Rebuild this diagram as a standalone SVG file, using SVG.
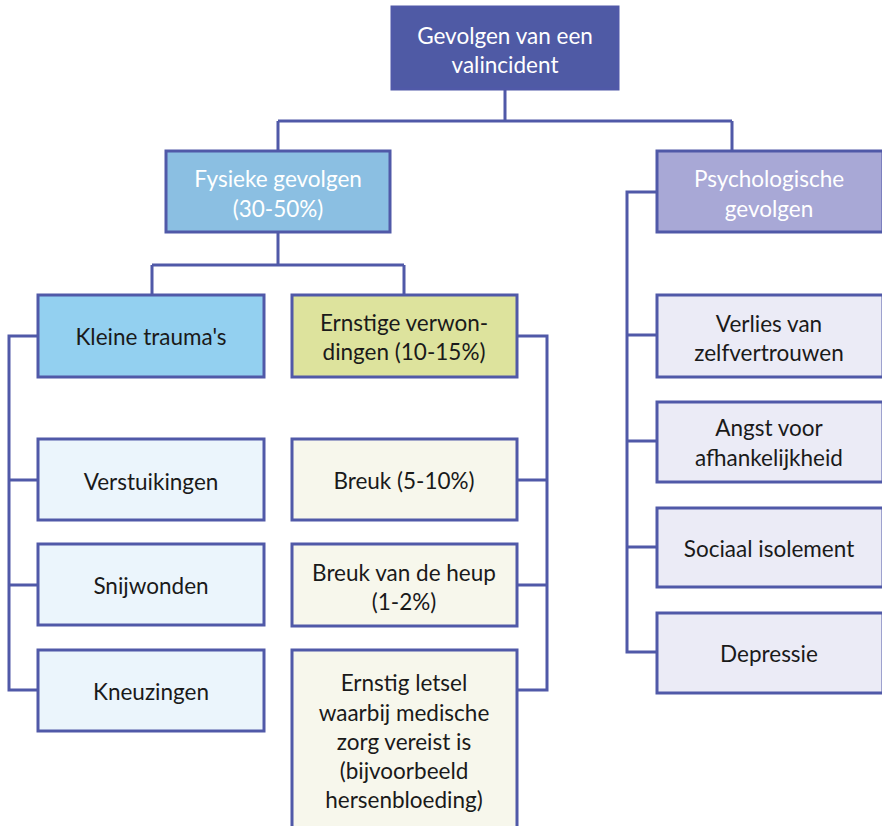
<svg xmlns="http://www.w3.org/2000/svg" width="882" height="826" viewBox="0 0 882 826">
<style>
rect{stroke:#5059a8;stroke-width:3}
.c{fill:none;stroke:#5059a8;stroke-width:3}
text{font-family:Lato,"Open Sans","Liberation Sans",sans-serif;font-size:22.5px;text-anchor:middle;dominant-baseline:central;fill:#1a1a1a}
.w{fill:#ffffff}
</style>
<rect width="882" height="826" fill="#ffffff" style="stroke:none"/>
<g id="connectors">
<path class="c" d="M505 89V121M278 121H732M278 121V151M732 121V151"/>
<path class="c" d="M278 232V265M152 265H404M152 265V295M404 265V295"/>
<path class="c" d="M38 336H9V690H38M9 480H38M9 585H38"/>
<path class="c" d="M517 336H547V690H517M547 480H517M547 585H517"/>
<path class="c" d="M657 192H627V652H657M627 335H657M627 441H657M627 547H657"/>
</g>
<g id="root"><rect x="392" y="7" width="226" height="82" fill="#4f5aa5"/><text class="w" x="505" y="35">Gevolgen van een</text><text class="w" x="505" y="64">valincident</text></g>
<g id="fysiek"><rect x="166" y="151" width="224" height="81" fill="#8bbfe2"/><text class="w" x="278" y="178">Fysieke gevolgen</text><text class="w" x="278" y="208">(30-50%)</text></g>
<g id="psych"><rect x="657" y="151" width="226" height="81" fill="#a8a8d6"/><text class="w" x="769" y="178">Psychologische</text><text class="w" x="769" y="208">gevolgen</text></g>
<g id="kleine"><rect x="38" y="295" width="226" height="82" fill="#93d0f0"/><text x="151" y="336">Kleine trauma's</text></g>
<g id="ernstige"><rect x="292" y="295" width="225" height="82" fill="#dde39d"/><text x="404" y="322">Ernstige verwon-</text><text x="404" y="351">dingen (10-15%)</text></g>
<g id="verstuikingen"><rect x="38" y="439" width="226" height="81" fill="#ebf5fc"/><text x="151" y="481">Verstuikingen</text></g>
<g id="snijwonden"><rect x="38" y="544" width="226" height="81" fill="#ebf5fc"/><text x="151" y="585">Snijwonden</text></g>
<g id="kneuzingen"><rect x="38" y="650" width="226" height="81" fill="#ebf5fc"/><text x="151" y="691">Kneuzingen</text></g>
<g id="breuk"><rect x="292" y="439" width="225" height="81" fill="#f7f7ec"/><text x="404" y="480">Breuk (5-10%)</text></g>
<g id="heup"><rect x="292" y="544" width="225" height="82" fill="#f7f7ec"/><text x="404" y="572">Breuk van de heup</text><text x="404" y="601">(1-2%)</text></g>
<g id="letsel"><rect x="292" y="650" width="225" height="190" fill="#f7f7ec"/><text x="404" y="682">Ernstig letsel</text><text x="404" y="712">waarbij medische</text><text x="404" y="741">zorg vereist is</text><text x="404" y="770">(bijvoorbeeld</text><text x="404" y="799">hersenbloeding)</text></g>
<g id="verlies"><rect x="657" y="295" width="226" height="82" fill="#ebebf6"/><text x="769" y="323">Verlies van</text><text x="769" y="352">zelfvertrouwen</text></g>
<g id="angst"><rect x="657" y="402" width="226" height="80" fill="#ebebf6"/><text x="769" y="427">Angst voor</text><text x="769" y="457">afhankelijkheid</text></g>
<g id="sociaal"><rect x="657" y="508" width="226" height="79" fill="#ebebf6"/><text x="769" y="548">Sociaal isolement</text></g>
<g id="depressie"><rect x="657" y="613" width="226" height="80" fill="#ebebf6"/><text x="769" y="653">Depressie</text></g>
</svg>
